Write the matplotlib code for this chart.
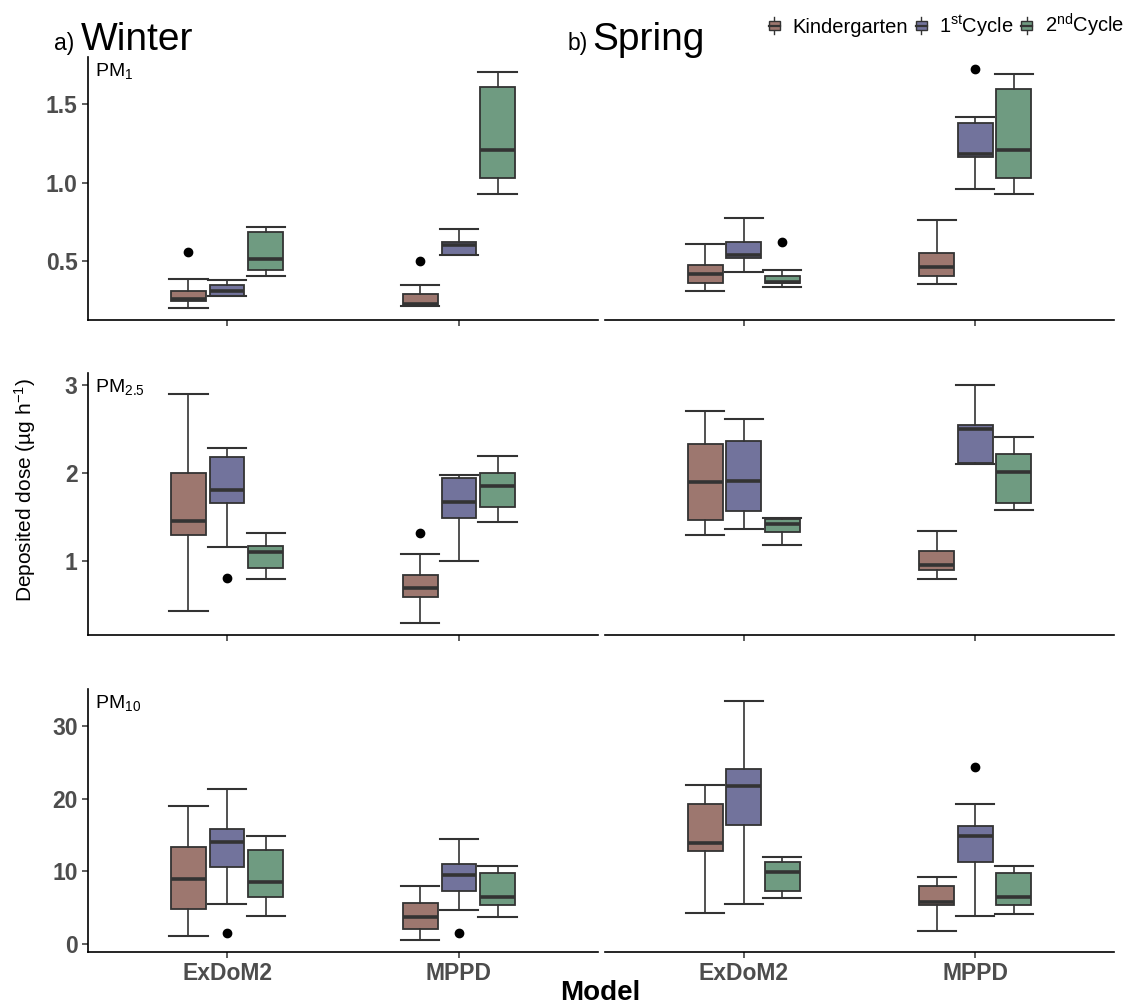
import numpy as np
import matplotlib.pyplot as plt
from matplotlib.legend_handler import HandlerBase
from matplotlib.patches import Rectangle
from matplotlib.lines import Line2D

plt.rcParams['font.family'] = ['Liberation Sans', 'DejaVu Sans']
plt.rcParams['mathtext.fontset'] = 'custom'
plt.rcParams['mathtext.rm'] = 'Liberation Sans'
plt.rcParams['mathtext.it'] = 'Liberation Sans:italic'
plt.rcParams['mathtext.bf'] = 'Liberation Sans:bold'

models = ['ExDoM2', 'MPPD']
group_labels = ['Kindergarten', r'$\mathregular{1^{st}}$Cycle', r'$\mathregular{2^{nd}}$Cycle']
colors = ['#9d776f', '#72739c', '#6f9b81']

# each box: [whislo, q1, median, q3, whishi]; rows = Kindergarten, 1st, 2nd
winter_pm1 = {'ExDoM2': [[0.205, 0.248, 0.262, 0.316, 0.392],
                         [0.284, 0.284, 0.316, 0.350, 0.383],
                         [0.405, 0.443, 0.517, 0.684, 0.718]],
              'MPPD':   [[0.218, 0.218, 0.231, 0.295, 0.350],
                         [0.538, 0.538, 0.606, 0.623, 0.703],
                         [0.928, 1.030, 1.205, 1.604, 1.699]]}
winter_pm1_out = {'ExDoM2': [[0.557], [], []], 'MPPD': [[0.506], [], []]}

spring_pm1 = {'ExDoM2': [[0.316, 0.362, 0.422, 0.475, 0.612],
                         [0.434, 0.523, 0.538, 0.625, 0.778],
                         [0.337, 0.362, 0.372, 0.405, 0.443]],
              'MPPD':   [[0.356, 0.411, 0.468, 0.553, 0.761],
                         [0.962, 1.163, 1.180, 1.379, 1.417],
                         [0.928, 1.030, 1.205, 1.595, 1.690]]}
spring_pm1_out = {'ExDoM2': [[], [], [0.623]], 'MPPD': [[], [1.72], []]}

winter_pm25 = {'ExDoM2': [[0.423, 1.290, 1.449, 2.000, 2.894],
                          [1.158, 1.657, 1.800, 2.177, 2.283],
                          [0.796, 0.913, 1.094, 1.166, 1.313]],
               'MPPD':   [[0.291, 0.589, 0.687, 0.838, 1.079],
                          [0.996, 1.487, 1.668, 1.943, 1.974],
                          [1.442, 1.615, 1.853, 1.996, 2.189]]}
winter_pm25_out = {'ExDoM2': [[], [0.808], []], 'MPPD': [[1.317], [], []]}

spring_pm25 = {'ExDoM2': [[1.291, 1.464, 1.891, 2.325, 2.702],
                          [1.362, 1.566, 1.906, 2.358, 2.608],
                          [1.181, 1.325, 1.411, 1.472, 1.487]],
               'MPPD':   [[0.789, 0.891, 0.951, 1.106, 1.336],
                          [2.102, 2.113, 2.494, 2.543, 2.996],
                          [1.574, 1.653, 2.008, 2.215, 2.408]]}
spring_pm25_out = {'ExDoM2': [[], [], []], 'MPPD': [[], [], []]}

winter_pm10 = {'ExDoM2': [[1.06, 4.78, 8.91, 13.32, 18.93],
                          [5.47, 10.66, 14.10, 15.80, 21.31],
                          [3.90, 6.43, 8.59, 12.91, 14.84]],
               'MPPD':   [[0.55, 2.07, 3.77, 5.60, 7.99],
                          [4.73, 7.26, 9.55, 10.98, 14.42],
                          [3.72, 5.37, 6.43, 9.74, 10.80]]}
winter_pm10_out = {'ExDoM2': [[], [1.56], []], 'MPPD': [[], [1.47], []]}

spring_pm10 = {'ExDoM2': [[4.23, 12.82, 13.92, 19.20, 21.82],
                          [5.51, 16.44, 21.73, 24.02, 33.44],
                          [6.34, 7.26, 9.97, 11.30, 12.03]],
               'MPPD':   [[1.84, 5.42, 5.83, 8.04, 9.28],
                          [3.86, 11.30, 14.88, 16.26, 19.25],
                          [4.13, 5.42, 6.52, 9.83, 10.75]]}
spring_pm10_out = {'ExDoM2': [[], [], []], 'MPPD': [[], [24.3], []]}

rows = [
    (r'PM$_{\mathregular{1}}$', winter_pm1, winter_pm1_out, spring_pm1, spring_pm1_out,
     [0.5, 1.0, 1.5], ['0.5', '1.0', '1.5']),
    (r'PM$_{\mathregular{2.5}}$', winter_pm25, winter_pm25_out, spring_pm25, spring_pm25_out,
     [1, 2, 3], ['1', '2', '3']),
    (r'PM$_{\mathregular{10}}$', winter_pm10, winter_pm10_out, spring_pm10, spring_pm10_out,
     [0, 10, 20, 30], ['0', '10', '20', '30']),
]

W, H = 1137, 1007
fig = plt.figure(figsize=(W / 100, H / 100), dpi=100)

col_px = [(88, 598), (605, 1114)]
row_px = [(57, 320), (373, 635), (689, 952)]
offsets = [-1 / 6, 0, 1 / 6]
edge = '#333333'
tick_col = '#4d4d4d'


def draw_panel(ax, data, outs):
    for i, m in enumerate(models):
        for g in range(3):
            lo, q1, med, q3, hi = data[m][g]
            st = dict(whislo=lo, q1=q1, med=med, q3=q3, whishi=hi, fliers=outs[m][g])
            ax.bxp([st], positions=[i + 1 + offsets[g]], widths=0.15, capwidths=0.165,
                   patch_artist=True, manage_ticks=False,
                   boxprops=dict(facecolor=colors[g], edgecolor=edge, linewidth=1.3),
                   medianprops=dict(color=edge, linewidth=2.6),
                   whiskerprops=dict(color=edge, linewidth=1.2),
                   capprops=dict(color=edge, linewidth=1.5),
                   flierprops=dict(marker='o', markerfacecolor='black',
                                   markeredgecolor='black', markersize=6))


for r, (pm, wd, wo, sd, so, yt, ytl) in enumerate(rows):
    allv = [v for d in (wd, sd) for m in models for b in d[m] for v in b]
    allv += [v for o in (wo, so) for m in models for f in o[m] for v in f]
    lo, hi = min(allv), max(allv)
    pad = 0.05 * (hi - lo)
    y0, y1 = row_px[r]
    for c in range(2):
        x0, x1 = col_px[c]
        ax = fig.add_axes([x0 / W, 1 - y1 / H, (x1 - x0) / W, (y1 - y0) / H])
        draw_panel(ax, wd if c == 0 else sd, wo if c == 0 else so)
        ax.set_xlim(0.4, 2.6)
        ax.set_ylim(lo - pad, hi + pad)
        ax.set_xticks([1, 2])
        for s in ['top', 'right']:
            ax.spines[s].set_visible(False)
        ax.spines['bottom'].set_linewidth(1.2)
        ax.spines['left'].set_linewidth(1.2)
        ax.tick_params(length=4, width=1.1, color='#333333', labelcolor=tick_col)
        if r == 2:
            ax.set_xticklabels(models, fontsize=16.5, fontweight='bold')
        else:
            ax.set_xticklabels([])
        if c == 0:
            ax.set_yticks(yt)
            ax.set_yticklabels(ytl, fontsize=16.5, fontweight='bold')
            ax.text(0.014, 0.985, pm, transform=ax.transAxes, fontsize=14,
                    ha='left', va='top')
        else:
            ax.spines['left'].set_visible(False)
            ax.set_yticks([])

# titles
fig.text(54 / W, 1 - 50 / H, 'a)', fontsize=16.5, va='baseline')
fig.text(81 / W, 1 - 50 / H, 'Winter', fontsize=28, va='baseline')
fig.text(568 / W, 1 - 50 / H, 'b)', fontsize=16.5, va='baseline')
fig.text(592 / W, 1 - 50 / H, 'Spring', fontsize=28, va='baseline')

fig.text(600 / W, 1 - 993 / H, 'Model', fontsize=20, fontweight='bold',
         ha='center', va='center')
fig.text(25 / W, 1 - 490 / H, r'Deposited dose (µg h$^{\mathregular{-1}}$)', fontsize=15,
         rotation=90, ha='center', va='center')


class HandlerBox(HandlerBase):
    def create_artists(self, legend, orig_handle, xdescent, ydescent, width, height,
                       fontsize, trans):
        cx = -xdescent + width / 2
        bw = width * 0.8
        bh = height * 0.55
        by = -ydescent + (height - bh) / 2
        whisk = Line2D([cx, cx], [-ydescent, -ydescent + height], color=edge, lw=1.0,
                       transform=trans)
        box = Rectangle((cx - bw / 2, by), bw, bh, facecolor=orig_handle.get_facecolor(),
                        edgecolor=edge, lw=1.0, transform=trans)
        med = Line2D([cx - bw / 2, cx + bw / 2], [by + bh / 2] * 2, color=edge, lw=1.6,
                     transform=trans)
        return [whisk, box, med]


handles = [Rectangle((0, 0), 1, 1, facecolor=c) for c in colors]
fig.legend(handles, group_labels, loc='upper right', bbox_to_anchor=(1134 / W, 1 - 2 / H),
           ncol=3, frameon=False, fontsize=14.5, handlelength=0.7, handleheight=0.9,
           handletextpad=0.55, columnspacing=0.3, borderaxespad=0.1,
           handler_map={Rectangle: HandlerBox()})

fig.savefig('out.png', dpi=100)
